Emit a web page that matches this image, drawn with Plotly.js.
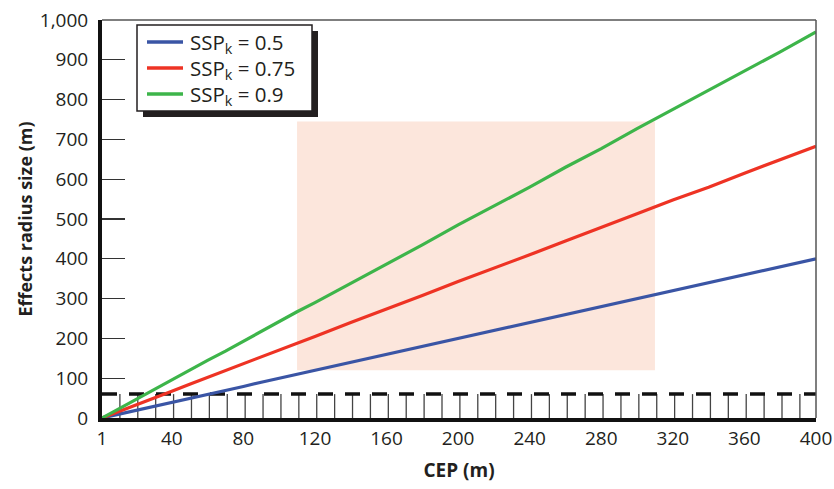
<!DOCTYPE html>
<html>
<head>
<meta charset="utf-8">
<script src="https://cdn.plot.ly/plotly-3.0.1.min.js"></script>
<style>html,body{margin:0;padding:0;background:#fff}#chart{width:834px;height:489px}</style>
</head>
<body>
<div id="chart"></div>
<script>
// Data
const cep = [1, 10, 20, 30, 40, 50, 60, 70, 80, 90, 100, 110, 120, 140, 160, 180, 200, 220, 240, 260, 280, 300, 320, 340, 360, 380, 400];
const ssp05 = [0, 9, 19, 28, 39, 48, 58, 68, 79, 90, 100, 110, 120, 140, 160, 180, 200, 220, 240, 259, 279, 299, 318, 339, 359, 380, 400];
const ssp075 = [0, 15, 33, 50, 67, 85, 102, 118, 136, 153, 170, 187, 205, 240, 273, 308, 343, 376, 410, 445, 478, 513, 548, 580, 615, 650, 683];
const ssp09 = [0, 22, 47, 72, 97, 120, 145, 168, 193, 218, 242, 267, 290, 338, 387, 435, 485, 532, 580, 630, 677, 727, 775, 822, 870, 920, 970];
const seriesNames = ['SSP<sub>k</sub> = 0.5', 'SSP<sub>k</sub> = 0.75', 'SSP<sub>k</sub> = 0.9'];
const seriesColors = ['#3a55a5', '#ee3324', '#3db54a'];
const xTickVals = [1, 40, 80, 120, 160, 200, 240, 280, 320, 360, 400];
const xTickText = ['1', '40', '80', '120', '160', '200', '240', '280', '320', '360', '400'];
const yTickVals = [0, 100, 200, 300, 400, 500, 600, 700, 800, 900, 1000];
// Highlighted region and threshold
const regionX = [110, 310];
const regionY = [120, 745];
const thresholdY = 60;
const hatchX = [11, 21, 31, 41, 51, 61, 71, 81, 91, 101, 111, 121, 131, 141, 151, 161, 171, 181, 191, 201, 211, 221, 231, 241, 251, 261, 271, 281, 291, 301, 311, 321, 331, 341, 351, 361, 371, 381, 391];

const FONT = '"Open Sans", "Noto Sans", sans-serif';
const W = 834, H = 489, M = {l: 102, r: 18, t: 20, b: 71};
const PW = W - M.l - M.r, PH = H - M.t - M.b;
const px = x => (x - M.l) / PW;          // pixel x -> paper
const py = y => (H - M.b - y) / PH;      // pixel y -> paper

const ys = [ssp05, ssp075, ssp09];
const traces = ys.map((y, i) => ({
  x: cep, y: y, type: 'scatter', mode: 'lines', name: seriesNames[i],
  line: {color: seriesColors[i], width: 3.2}, showlegend: false
}));

const shapes = [];
shapes.push({type: 'rect', xref: 'x', yref: 'y', x0: regionX[0], x1: regionX[1], y0: regionY[0], y1: regionY[1],
  fillcolor: '#fce6dc', line: {width: 0}, layer: 'below'});
hatchX.forEach(h => shapes.push({type: 'line', xref: 'x', yref: 'y', x0: h, x1: h, y0: 0, y1: thresholdY,
  line: {color: '#444', width: 1.3}, layer: 'below'}));
shapes.push({type: 'line', xref: 'x', yref: 'y', x0: 1, x1: 400, y0: thresholdY, y1: thresholdY,
  line: {color: '#111', width: 3.5, dash: '15px,12px'}, layer: 'below'});
// top and right thin borders
shapes.push({type: 'line', xref: 'paper', yref: 'paper', x0: 0, x1: 1, y0: 1, y1: 1, line: {color: '#555', width: 1.5}});
shapes.push({type: 'line', xref: 'paper', yref: 'paper', x0: 1, x1: 1, y0: 0, y1: 1, line: {color: '#555', width: 1.5}});

// legend box with drop shadow
shapes.push({type: 'rect', xref: 'paper', yref: 'paper', x0: px(143), x1: px(318), y0: py(117), y1: py(31),
  fillcolor: '#231f20', line: {width: 0}});
shapes.push({type: 'rect', xref: 'paper', yref: 'paper', x0: px(137), x1: px(312), y0: py(111), y1: py(25),
  fillcolor: '#ffffff', line: {color: '#231f20', width: 1.5}});
const annotations = [];
const rowY = [42, 68, 94];
seriesNames.forEach((n, i) => {
  shapes.push({type: 'line', xref: 'paper', yref: 'paper', x0: px(147), x1: px(183), y0: py(rowY[i]), y1: py(rowY[i]),
    line: {color: seriesColors[i], width: 3.5}});
  annotations.push({xref: 'paper', yref: 'paper', x: px(189), y: py(rowY[i] + 1), xanchor: 'left', yanchor: 'middle',
    text: n, showarrow: false, font: {family: FONT, size: 20.5, color: '#231f20'}, borderpad: 0});
});

const layout = {
  width: W, height: H,
  margin: M,
  paper_bgcolor: '#fff', plot_bgcolor: '#fff',
  font: {family: FONT, size: 17, color: '#231f20'},
  showlegend: false,
  xaxis: {range: [1, 400], tickvals: xTickVals, ticktext: xTickText, ticks: '', showgrid: false, zeroline: false,
    showline: true, linecolor: '#111', linewidth: 4, tickfont: {size: 19},
    title: {text: '<b>CEP (m)</b>', font: {size: 19}, standoff: 15}},
  yaxis: {range: [0, 1000], tickvals: yTickVals, tickformat: ',d', ticks: 'inside', ticklen: 23, tickwidth: 1.2,
    tickcolor: '#333', showgrid: false, zeroline: false, showline: true, linecolor: '#111', linewidth: 4,
    tickfont: {size: 19}, ticklabelstandoff: 6,
    title: {text: '<b>Effects radius size (m)</b>', font: {size: 18}, standoff: 4}},
  shapes: shapes,
  annotations: annotations
};
Plotly.newPlot('chart', traces, layout, {staticPlot: true, displayModeBar: false});
</script>
</body>
</html>
